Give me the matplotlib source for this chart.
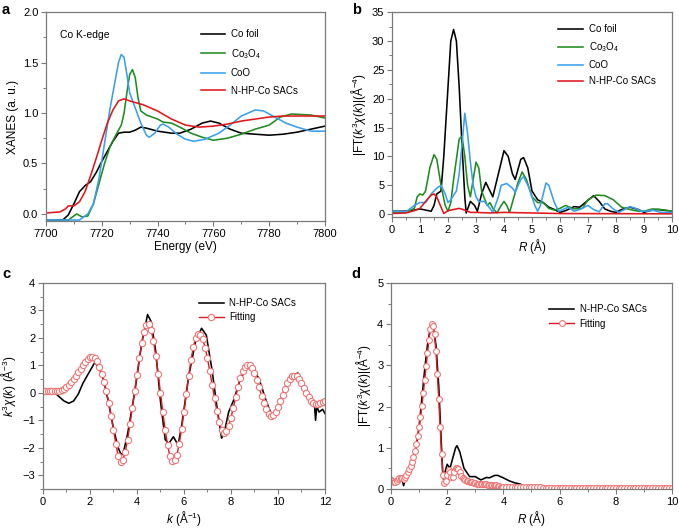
import numpy as np
import matplotlib
matplotlib.use("Agg")
from matplotlib import pyplot as plt
from matplotlib.ticker import MultipleLocator

plt.rcParams['font.family'] = ['Liberation Sans', 'DejaVu Sans']
plt.rcParams['mathtext.fontset'] = 'custom'
plt.rcParams['mathtext.rm'] = 'Liberation Sans'
plt.rcParams['mathtext.it'] = 'Liberation Sans:italic'
plt.rcParams['mathtext.bf'] = 'Liberation Sans:bold'

C_BLACK = '#000000'
C_GREEN = '#1f8c1f'
C_BLUE = '#3aa0ee'
C_RED = '#e3171b'

# ---- panel a : XANES ----
foil_e = [7700, 7706, 7708, 7710, 7712, 7714, 7716, 7718, 7720, 7722, 7724, 7726, 7728, 7730,
          7732, 7734, 7736, 7740, 7745, 7748, 7752, 7756, 7759, 7762, 7766, 7770, 7775, 7780,
          7785, 7790, 7795, 7800]
foil_mu = [-0.06, -0.06, -0.01, 0.10, 0.22, 0.28, 0.32, 0.41, 0.52, 0.62, 0.72, 0.80, 0.81, 0.81,
           0.83, 0.86, 0.85, 0.82, 0.80, 0.80, 0.84, 0.90, 0.92, 0.90, 0.84, 0.80, 0.79, 0.78,
           0.79, 0.81, 0.84, 0.87]
co3o4_e = [7700, 7708, 7710, 7711, 7713, 7715, 7717, 7719, 7721, 7723, 7725, 7727, 7728, 7729,
           7730, 7731, 7732, 7733, 7734, 7736, 7738, 7740, 7742, 7745, 7748, 7752, 7756, 7760,
           7765, 7770, 7775, 7780, 7784, 7788, 7795, 7800]
co3o4_mu = [-0.06, -0.06, -0.02, 0.0, -0.03, -0.02, 0.10, 0.30, 0.50, 0.67, 0.78, 0.88, 1.00, 1.20,
            1.38, 1.43, 1.35, 1.15, 1.02, 0.98, 0.96, 0.94, 0.91, 0.90, 0.86, 0.80, 0.76, 0.73,
            0.75, 0.79, 0.84, 0.88, 0.96, 0.99, 0.98, 0.95]
coo_e = [7700, 7712, 7713, 7715, 7717, 7719, 7721, 7723, 7725, 7726, 7727, 7728, 7729, 7730,
         7732, 7734, 7736, 7737, 7739, 7741, 7742, 7744, 7747, 7750, 7753, 7757, 7762, 7766,
         7770, 7775, 7778, 7782, 7786, 7790, 7795, 7800]
coo_mu = [-0.06, -0.06, -0.04, 0.0, 0.10, 0.35, 0.70, 1.05, 1.35, 1.50, 1.58, 1.55, 1.38, 1.20,
          1.05, 0.90, 0.78, 0.76, 0.80, 0.88, 0.89, 0.86, 0.79, 0.74, 0.72, 0.74, 0.80, 0.88,
          0.97, 1.03, 1.02, 0.96, 0.90, 0.86, 0.82, 0.82]
sac_e = [7700, 7705, 7707, 7708, 7710, 7712, 7714, 7716, 7718, 7720, 7722, 7724, 7726, 7728,
         7730, 7735, 7740, 7745, 7750, 7755, 7760, 7765, 7770, 7775, 7780, 7785, 7790, 7795, 7800]
sac_mu = [0.01, 0.02, 0.05, 0.08, 0.08, 0.12, 0.22, 0.38, 0.55, 0.73, 0.90, 1.03, 1.12, 1.14,
          1.12, 1.08, 1.02, 0.94, 0.88, 0.86, 0.87, 0.89, 0.92, 0.94, 0.96, 0.97, 0.97, 0.97, 0.97]

# ---- panel b : FT-EXAFS of references ----
foil_r = [0, 0.5, 0.8, 1.0, 1.2, 1.4, 1.5, 1.6, 1.75, 1.85, 2.0, 2.1, 2.2, 2.3, 2.4, 2.5, 2.6,
          2.65, 2.8, 2.95, 3.05, 3.2, 3.35, 3.5, 3.6, 3.8, 4.0, 4.15, 4.3, 4.4, 4.6, 4.7, 4.85,
          5.0, 5.2, 5.4, 5.6, 5.8, 6.0, 6.2, 6.5, 6.7, 6.9, 7.2, 7.4, 7.6, 7.8, 8.0, 8.2, 8.5,
          8.8, 9.0, 9.2, 9.5, 10]
foil_ft = [0.5, 0.5, 0.7, 0.9, 0.7, 0.5, 1.5, 3.5, 4.0, 10, 22, 30, 32, 30, 22, 12, 3,
           0.2, 2.2, 1.5, 0.5, 3.5, 5.5, 4.0, 3.0, 7.0, 11.0, 10.0, 7.0, 6.0, 9.5, 9.8, 8.0,
           4.0, 2.5, 2.0, 1.2, 0.8, 0.3, 0.6, 1.3, 1.2, 2.0, 3.2, 2.2, 0.9, 0.5, 0.3, 0.8, 1.2,
           0.8, 0.3, 0.6, 0.8, 0.5]
co3o4_r = [0, 0.5, 0.8, 0.9, 1.0, 1.1, 1.2, 1.35, 1.5, 1.6, 1.75, 1.9, 2.0, 2.1, 2.2, 2.4, 2.5,
           2.6, 2.7, 2.8, 2.9, 3.0, 3.1, 3.2, 3.4, 3.5, 3.6, 3.75, 3.9, 4.0, 4.1, 4.2, 4.3, 4.5,
           4.65, 4.8, 5.0, 5.2, 5.4, 5.6, 5.8, 6.0, 6.2, 6.5, 6.8, 7.0, 7.3, 7.6, 7.9, 8.2, 8.5,
           8.8, 9.0, 9.3, 9.6, 10]
co3o4_ft = [0.3, 0.3, 1.0, 3.0, 3.5, 3.3, 4.0, 8.0, 10.3, 9.5, 5.0, 1.5, 0.5, 2.0, 6.0, 13.0, 13.5,
            10.0, 5.0, 3.0, 6.0, 9.0, 8.0, 4.0, 1.5, 2.0, 1.0, 0.2, 1.5, 2.2, 1.5, 0.3, 2.0, 5.5,
            7.3, 6.0, 3.0, 2.0, 2.0, 1.0, 0.7, 1.0, 1.5, 0.9, 1.0, 2.5, 3.3, 3.2, 2.5, 1.2, 0.8,
            0.5, 0.5, 0.9, 0.8, 0.5]
coo_r = [0, 0.5, 0.8, 1.0, 1.2, 1.4, 1.6, 1.75, 1.9, 2.0, 2.1, 2.3, 2.4, 2.5, 2.6, 2.7, 2.8,
         2.9, 3.0, 3.1, 3.3, 3.5, 3.6, 3.8, 3.9, 4.1, 4.3, 4.4, 4.6, 4.7, 4.9, 5.1, 5.2, 5.3,
         5.5, 5.6, 5.8, 5.95, 6.1, 6.3, 6.5, 6.7, 7.0, 7.2, 7.4, 7.6, 7.7, 7.9, 8.1, 8.3, 8.5,
         8.7, 8.9, 9.1, 9.3, 9.6, 10]
coo_ft = [0.5, 0.4, 1.5, 2.0, 2.0, 3.5, 4.5, 5.0, 3.5, 2.0, 2.5, 4.0, 7.0, 12.0, 17.5, 14.0, 9.0,
          5.0, 3.0, 2.2, 2.2, 1.0, 0.3, 3.0, 5.0, 5.3, 4.5, 3.8, 6.0, 6.5, 4.5, 1.5, 0.5, 1.5,
          5.4, 5.0, 2.0, 0.5, 0.8, 1.2, 0.5, 0.8, 1.5, 0.8, 0.4, 1.8, 1.8, 0.9, 0.3, 0.8, 1.3,
          1.0, 0.5, 0.5, 0.7, 0.3, 0.3]
sac_r = [0, 0.5, 0.8, 1.0, 1.2, 1.4, 1.5, 1.6, 1.7, 1.85, 2.0, 2.2, 2.4, 2.6, 2.8, 3.0, 3.5,
         4.0, 5.0, 6.0, 10]
sac_ft = [0.1, 0.2, 0.6, 1.0, 2.2, 3.3, 3.5, 3.0, 1.8, 0.1, 0.6, 0.8, 1.0, 0.7, 0.3, 0.3, 0.2,
          0.3, 0.2, 0.1, 0.05]

# ---- panel c : k-space fit ----
k_exp = [0, 0.5, 0.7, 0.9, 1.1, 1.3, 1.5, 1.7, 1.9, 2.1, 2.2, 2.4, 2.6, 2.8, 3.0, 3.2, 3.3,
         3.4, 3.6, 3.9, 4.2, 4.45, 4.6, 4.8, 5.0, 5.2, 5.35, 5.55, 5.75, 5.9, 6.2, 6.5, 6.75,
         6.95, 7.2, 7.4, 7.6, 7.7, 7.9, 8.1, 8.4, 8.7, 8.9, 9.2, 9.5, 9.75, 10.0, 10.3, 10.6,
         10.85, 11.1, 11.4, 11.55, 11.6, 11.65, 11.75, 11.9, 12.0]
chi_exp = [0, 0, -0.15, -0.30, -0.38, -0.30, -0.05, 0.35, 0.65, 0.95, 1.10, 0.90, 0.40, -0.40,
           -1.30, -2.00, -2.20, -2.25, -1.50, 0.0, 1.80, 2.85, 2.60, 1.50, -0.30, -1.70, -1.85,
           -1.60, -1.90, -1.20, 0.60, 1.90, 2.35, 2.10, 0.80, -0.50, -1.65, -1.50, -0.70, -0.30,
           0.50, 0.95, 0.95, 0.50, -0.30, -0.85, -0.55, 0.20, 0.65, 0.72, 0.30, -0.20, -0.40,
           -1.00, -0.50, -0.70, -0.60, -0.75]
k_fit = [round(0.1 * i, 1) for i in range(121)]
chi_fit = [0.05, 0.05, 0.05, 0.05, 0.05, 0.05, 0.06, 0.08, 0.10, 0.14,
           0.20, 0.28, 0.38, 0.50, 0.62, 0.75, 0.88, 1.01, 1.13, 1.23,
           1.30, 1.32, 1.27, 1.15, 0.95, 0.70, 0.40, 0.05, -0.38, -0.85,
           -1.35, -1.85, -2.30, -2.52, -2.45, -2.15, -1.70, -1.15, -0.55, 0.05,
           0.65, 1.25, 1.80, 2.22, 2.48, 2.50, 2.30, 1.90, 1.35, 0.70,
           0.00, -0.70, -1.35, -1.90, -2.30, -2.48, -2.45, -2.25, -1.85, -1.30,
           -0.70, -0.05, 0.60, 1.20, 1.68, 2.00, 2.15, 2.12, 1.95, 1.65,
           1.25, 0.78, 0.30, -0.20, -0.65, -1.05, -1.35, -1.45, -1.40, -1.20,
           -0.90, -0.55, -0.15, 0.22, 0.55, 0.80, 0.95, 1.02, 1.00, 0.90,
           0.72, 0.48, 0.20, -0.10, -0.38, -0.60, -0.78, -0.85, -0.82, -0.70,
           -0.52, -0.30, -0.08, 0.15, 0.35, 0.50, 0.60, 0.63, 0.60, 0.50,
           0.35, 0.18, 0.00, -0.15, -0.28, -0.36, -0.40, -0.40, -0.37, -0.33,
           -0.28]

# ---- panel d : R-space fit ----
r_exp = [0, 0.1, 0.15, 0.2, 0.3, 0.4, 0.45, 0.5, 0.6, 0.7, 0.8, 0.9, 1.0, 1.1, 1.2, 1.3, 1.4,
         1.45, 1.5, 1.6, 1.7, 1.8, 1.85, 1.9, 2.0, 2.1, 2.2, 2.3, 2.35, 2.45, 2.6, 2.8, 3.0,
         3.2, 3.4, 3.5, 3.7, 3.8, 4.0, 4.2, 4.4, 4.6, 4.8, 5.0, 5.5, 5.9, 6.0, 6.2, 6.8, 6.9,
         7.0, 8.0, 10]
ft_exp = [0.20, 0.12, 0.10, 0.20, 0.25, 0.20, 0.08, 0.20, 0.35, 0.50, 0.70, 1.00, 1.50, 2.20,
          2.90, 3.50, 3.90, 4.00, 3.95, 3.50, 2.50, 1.00, 0.25, 0.35, 0.60, 0.50, 0.75, 1.00,
          1.05, 0.90, 0.50, 0.30, 0.30, 0.22, 0.28, 0.27, 0.33, 0.33, 0.27, 0.20, 0.15, 0.12,
          0.05, 0.05, 0.04, 0.05, 0.06, 0.03, 0.04, 0.05, 0.03, 0.03, 0.03]
r_fit = ([round(0.05 * i, 2) for i in range(81)] +
         [round(4.1 + 0.1 * i, 1) for i in range(60)])
ft_fit = [0.22, 0.20, 0.18, 0.17, 0.20, 0.24, 0.26, 0.27, 0.26, 0.25,
          0.28, 0.33, 0.40, 0.48, 0.56, 0.66, 0.78, 0.92, 1.08, 1.28,
          1.50, 1.75, 2.02, 2.32, 2.65, 2.98, 3.30, 3.62, 3.88, 4.00,
          3.95, 3.75, 3.35, 2.80, 2.18, 1.50, 0.85, 0.35, 0.15, 0.20,
          0.35, 0.45, 0.40, 0.28, 0.28, 0.40, 0.50, 0.52, 0.48, 0.40,
          0.32, 0.27, 0.24, 0.22, 0.20, 0.19, 0.18, 0.17, 0.16, 0.15,
          0.14, 0.13, 0.13, 0.12, 0.12, 0.13, 0.13, 0.12, 0.11, 0.10,
          0.10, 0.10, 0.10, 0.09, 0.09, 0.09, 0.08, 0.07, 0.06, 0.06,
          0.06,
          0.05, 0.05, 0.05, 0.05, 0.05, 0.04, 0.04, 0.04, 0.04, 0.04,
          0.04, 0.04, 0.04, 0.03, 0.03, 0.03, 0.03, 0.03, 0.03, 0.03,
          0.03, 0.03, 0.03, 0.03, 0.03, 0.03, 0.03, 0.03, 0.03, 0.03,
          0.03, 0.03, 0.03, 0.03, 0.03, 0.03, 0.03, 0.03, 0.03, 0.03,
          0.03, 0.03, 0.03, 0.03, 0.03, 0.03, 0.03, 0.03, 0.03, 0.03,
          0.03, 0.03, 0.03, 0.03, 0.03, 0.03, 0.03, 0.03, 0.03, 0.03]

FS_TICK = 8
FS_LABEL = 8.5
FS_LEG = 7
LW = 1.15


def style_axes(ax, xmaj, xmin, ymaj, ymin):
    for side in ['left', 'bottom', 'top', 'right']:
        ax.spines[side].set_color('#7a7a7a')
        ax.spines[side].set_linewidth(0.9)
    ax.xaxis.set_major_locator(MultipleLocator(xmaj))
    ax.xaxis.set_minor_locator(MultipleLocator(xmin))
    ax.yaxis.set_major_locator(MultipleLocator(ymaj))
    ax.yaxis.set_minor_locator(MultipleLocator(ymin))
    ax.tick_params(which='both', direction='out', color='#7a7a7a', labelsize=FS_TICK,
                   top=False, right=False, pad=2)
    ax.tick_params(which='major', length=3.5, width=0.8)
    ax.tick_params(which='minor', length=2, width=0.7)


def panel_tag(fig, x, y, s):
    fig.text(x, y, s, fontsize=10.5, fontweight='bold', ha='left', va='top')


fig = plt.figure(figsize=(6.79, 5.28), dpi=100)

# a
ax = fig.add_axes([0.0677, 0.5814, 0.4109, 0.3958])
ax.plot(foil_e, foil_mu, color=C_BLACK, lw=LW, label='Co foil')
ax.plot(co3o4_e, co3o4_mu, color=C_GREEN, lw=LW, label='Co$_3$O$_4$')
ax.plot(coo_e, coo_mu, color=C_BLUE, lw=LW, label='CoO')
ax.plot(sac_e, sac_mu, color=C_RED, lw=LW, label='N-HP-Co SACs')
ax.set_xlim(7700, 7800)
ax.set_ylim(-0.07, 2.0)
style_axes(ax, 20, 10, 0.5, 0.25)
ax.yaxis.set_major_formatter(matplotlib.ticker.FormatStrFormatter('%.1f'))
ax.set_xlabel('Energy (eV)', fontsize=FS_LABEL, labelpad=2)
ax.set_ylabel('XANES (a. u.)', fontsize=FS_LABEL, labelpad=3)
ax.text(0.05, 0.89, 'Co K-edge', transform=ax.transAxes, fontsize=FS_LEG + 0.5, va='center')
ax.legend(loc='upper left', bbox_to_anchor=(0.53, 0.95), frameon=False, fontsize=FS_LEG,
          handlelength=2.5, labelspacing=0.78, handletextpad=0.6, borderpad=0.2)
panel_tag(fig, 0.003, 0.995, 'a')

# b
ax = fig.add_axes([0.5773, 0.589, 0.4124, 0.388])
ax.plot(foil_r, foil_ft, color=C_BLACK, lw=LW, label='Co foil')
ax.plot(co3o4_r, co3o4_ft, color=C_GREEN, lw=LW, label='Co$_3$O$_4$')
ax.plot(coo_r, coo_ft, color=C_BLUE, lw=LW, label='CoO')
ax.plot(sac_r, sac_ft, color=C_RED, lw=LW, label='N-HP-Co SACs')
ax.set_xlim(0, 10)
ax.set_ylim(-0.5, 35)
style_axes(ax, 1, 0.5, 5, 2.5)
ax.set_xlabel(r'$R$ (Å)', fontsize=FS_LABEL, labelpad=2)
ax.set_ylabel(r'|FT($k^3\chi(k)$|(Å$^{-4}$)', fontsize=FS_LABEL, labelpad=3)
ax.legend(loc='upper left', bbox_to_anchor=(0.57, 0.975), frameon=False, fontsize=FS_LEG,
          handlelength=2.5, labelspacing=0.62, handletextpad=0.6, borderpad=0.2)
panel_tag(fig, 0.518, 0.995, 'b')

# c
ax = fig.add_axes([0.0633, 0.0739, 0.4153, 0.3902])
ax.plot(k_exp, chi_exp, color=C_BLACK, lw=LW, label='N-HP-Co SACs')
ax.plot(k_fit, chi_fit, color=C_RED, lw=1.0, marker='o', ms=4.5, mfc='white',
        mec='#f07575', mew=0.8, label='Fitting')
ax.set_xlim(0, 12)
ax.set_ylim(-3.5, 4)
style_axes(ax, 2, 1, 1, 0.5)
ax.set_xlabel(r'$k$ (Å$^{-1}$)', fontsize=FS_LABEL, labelpad=2)
ax.set_ylabel(r'$k^3\chi(k)$ (Å$^{-3}$)', fontsize=FS_LABEL, labelpad=3)
ax.legend(loc='upper left', bbox_to_anchor=(0.53, 0.96), frameon=False, fontsize=FS_LEG,
          handlelength=2.5, labelspacing=0.45, handletextpad=0.6, borderpad=0.2)
panel_tag(fig, 0.003, 0.494, 'c')

# d
ax = fig.add_axes([0.5758, 0.0739, 0.4138, 0.3902])
ax.plot(r_exp, ft_exp, color=C_BLACK, lw=LW, label='N-HP-Co SACs')
ax.plot(r_fit, ft_fit, color=C_RED, lw=1.0, marker='o', ms=4.2, mfc='white',
        mec='#f07575', mew=0.8, label='Fitting')
ax.set_xlim(0, 10)
ax.set_ylim(0, 5)
style_axes(ax, 2, 1, 1, 0.5)
ax.set_xlabel(r'$R$ (Å)', fontsize=FS_LABEL, labelpad=2)
ax.set_ylabel(r'|FT($k^3\chi(k)$|(Å$^{-4}$)', fontsize=FS_LABEL, labelpad=3)
ax.legend(loc='upper left', bbox_to_anchor=(0.54, 0.93), frameon=False, fontsize=FS_LEG,
          handlelength=2.5, labelspacing=0.45, handletextpad=0.6, borderpad=0.2)
panel_tag(fig, 0.518, 0.494, 'd')

plt.savefig('out.png', dpi=100)
